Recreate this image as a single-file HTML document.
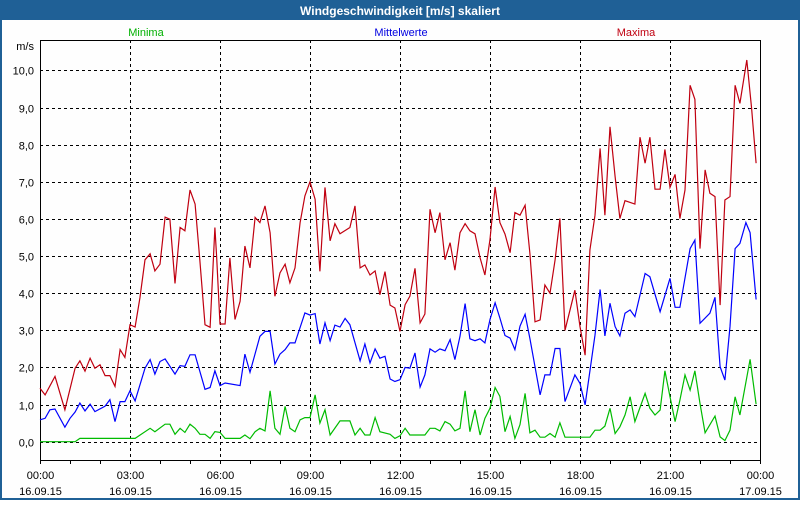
<!DOCTYPE html>
<html><head><meta charset="utf-8"><style>
body{margin:0;width:800px;height:500px;overflow:hidden;background:#fff;font-family:"Liberation Sans",sans-serif}
</style></head><body>
<svg id="c" width="800" height="500" xmlns="http://www.w3.org/2000/svg" font-family="Liberation Sans, sans-serif">
<rect x="0" y="0" width="800" height="500" fill="#1f6096"/>
<rect x="2" y="20" width="796" height="478" fill="#fefefe"/>
<text x="400" y="15" text-anchor="middle" fill="#fff" font-weight="bold" font-size="12">Windgeschwindigkeit [m/s] skaliert</text>
<text x="146" y="36" text-anchor="middle" fill="#00b000" font-size="11">Minima</text>
<text x="401" y="36" text-anchor="middle" fill="#0000e0" font-size="11">Mittelwerte</text>
<text x="636" y="36" text-anchor="middle" fill="#c00010" font-size="11">Maxima</text>
<text x="34" y="50" text-anchor="end" font-size="11">m/s</text>
<g id="grid"></g><g id="axes"></g><g id="series"></g>
</svg>
<script>
const yTicks=[0,1,2,3,4,5,6,7,8,9,10];
const yTickLabels=["0,0","1,0","2,0","3,0","4,0","5,0","6,0","7,0","8,0","9,0","10,0"];
const xTicks=[0,3,6,9,12,15,18,21,24];
const xTimeLabels=["00:00","03:00","06:00","09:00","12:00","15:00","18:00","21:00","00:00"];
const xDateLabels=["16.09.15","16.09.15","16.09.15","16.09.15","16.09.15","16.09.15","16.09.15","16.09.15","17.09.15"];
const maxHours=[0,0.17,0.5,0.83,1.17,1.33,1.5,1.67,1.83,2,2.17,2.33,2.5,2.67,2.83,3,3.17,3.33,3.5,3.67,3.83,4,4.17,4.33,4.5,4.67,4.83,5,5.17,5.33,5.5,5.67,5.83,5.89,6,6.17,6.33,6.5,6.67,6.83,7,7.17,7.33,7.5,7.67,7.83,8,8.17,8.33,8.5,8.67,8.83,9,9.17,9.33,9.5,9.67,9.83,10,10.33,10.5,10.67,10.83,11,11.17,11.33,11.5,11.67,11.83,12,12.17,12.33,12.5,12.67,12.83,13,13.17,13.33,13.5,13.67,13.83,14,14.17,14.33,14.5,14.67,14.83,15,15.17,15.33,15.5,15.67,15.83,16,16.17,16.33,16.5,16.67,16.83,17,17.17,17.33,17.5,17.83,18,18.17,18.33,18.5,18.67,18.83,19,19.17,19.33,19.5,19.83,20,20.17,20.33,20.5,20.67,20.83,21,21.17,21.33,21.5,21.67,21.83,22,22.17,22.33,22.5,22.67,22.83,23,23.17,23.33,23.56,23.72,23.87];
const maxValues=[1.44,1.26,1.76,0.86,1.98,2.18,1.9,2.25,1.98,2.07,1.78,1.78,1.49,2.48,2.27,3.15,3.09,3.87,4.9,5.06,4.6,4.78,6.05,5.99,4.26,5.77,5.68,6.78,6.4,4.87,3.15,3.08,5.77,4.95,3.17,3.17,4.95,3.29,3.78,5.27,4.68,6.04,5.9,6.35,5.63,3.92,4.55,4.78,4.28,4.68,5.9,6.62,7.0,6.53,4.59,6.85,5.41,5.87,5.6,5.77,6.35,4.68,4.76,4.49,4.6,3.96,4.58,3.68,3.6,2.97,3.69,3.92,4.67,3.2,3.44,6.26,5.63,6.17,4.9,5.36,4.62,5.63,5.87,5.68,5.6,4.95,4.49,5.45,6.86,5.9,5.59,5.09,6.17,6.1,6.37,5.07,3.23,3.28,4.22,4.0,4.9,6.01,3.0,4.08,3.1,2.33,5.16,6.1,7.9,6.1,8.48,7.14,6.01,6.49,6.4,8.2,7.5,8.2,6.8,6.8,7.87,6.85,7.2,6.01,6.78,9.6,9.22,5.2,7.32,6.69,6.6,3.68,6.51,6.6,9.6,9.11,10.28,8.98,7.5];
const meanHours=[0,0.17,0.33,0.5,0.83,1,1.17,1.33,1.5,1.67,1.83,2.17,2.33,2.5,2.67,2.83,3,3.17,3.5,3.67,3.83,4,4.17,4.5,4.67,4.83,5,5.17,5.5,5.67,5.83,6,6.17,6.67,6.83,7,7.33,7.5,7.67,7.83,8,8.17,8.33,8.5,8.83,9,9.17,9.33,9.5,9.67,9.83,10,10.17,10.33,10.67,10.83,11,11.17,11.33,11.5,11.67,11.83,12,12.17,12.33,12.5,12.67,12.83,13,13.17,13.33,13.5,13.67,13.83,14,14.17,14.33,14.5,14.67,14.83,15,15.17,15.33,15.5,15.67,15.83,16,16.17,16.33,16.67,16.83,17,17.17,17.33,17.5,17.83,18,18.17,18.5,18.67,18.83,19,19.17,19.33,19.5,19.67,19.83,20.17,20.33,20.67,21,21.17,21.33,21.67,21.83,22,22.33,22.5,22.67,22.83,23,23.17,23.33,23.53,23.67,23.87];
const meanValues=[0.59,0.63,0.86,0.88,0.39,0.63,0.8,1.04,0.83,1.01,0.81,0.96,1.13,0.54,1.08,1.08,1.37,1.1,1.98,2.21,1.82,2.16,2.23,1.82,2.05,2.03,2.34,2.34,1.41,1.46,1.91,1.51,1.58,1.51,2.36,1.87,2.84,2.97,2.97,2.09,2.36,2.48,2.66,2.66,3.47,3.41,3.45,2.63,3.2,2.72,3.14,3.09,3.32,3.15,2.18,2.63,2.12,2.5,2.25,2.3,1.69,1.62,1.67,2.0,1.98,2.39,1.47,1.8,2.5,2.41,2.5,2.45,2.75,2.21,2.84,3.72,2.77,2.72,2.77,2.66,3.29,3.74,3.33,2.86,2.79,2.48,3.11,3.43,2.78,1.26,1.8,1.8,2.51,2.51,1.08,1.8,1.57,0.99,2.87,4.1,2.85,3.73,3.1,2.85,3.46,3.55,3.37,4.53,4.44,3.5,4.4,3.62,3.62,5.2,5.43,3.19,3.46,3.89,2.02,1.66,3.1,5.2,5.34,5.9,5.63,3.83];
const minHours=[0,1.17,1.33,3.17,3.67,3.83,4.17,4.33,4.5,4.67,4.83,5,5.17,5.33,5.5,5.67,5.83,6,6.17,6.67,6.83,7,7.17,7.33,7.5,7.67,7.83,8,8.17,8.33,8.5,8.67,8.83,9,9.17,9.33,9.5,9.67,10,10.33,10.5,10.67,10.83,11,11.17,11.33,11.67,11.83,12,12.17,12.33,12.83,13,13.17,13.33,13.5,13.67,13.83,14,14.17,14.33,14.5,14.67,14.83,15,15.17,15.33,15.5,15.67,15.83,16,16.17,16.33,16.5,16.67,16.83,17,17.17,17.33,17.5,18.33,18.5,18.67,18.83,19,19.17,19.33,19.5,19.67,19.83,20.17,20.33,20.5,20.67,20.83,21,21.17,21.33,21.5,21.67,21.83,22,22.17,22.5,22.67,22.83,23,23.17,23.33,23.67,23.87];
const minValues=[0,0,0.09,0.09,0.36,0.27,0.47,0.47,0.2,0.36,0.25,0.47,0.36,0.2,0.2,0.09,0.27,0.25,0.09,0.09,0.18,0.08,0.27,0.36,0.29,1.37,0.36,0.2,0.95,0.36,0.27,0.59,0.65,0.65,1.26,0.5,0.86,0.18,0.56,0.56,0.18,0.36,0.18,0.18,0.65,0.27,0.2,0.09,0.16,0.36,0.18,0.18,0.36,0.36,0.29,0.54,0.47,0.29,0.36,1.37,0.27,0.86,0.18,0.63,0.9,1.46,1.22,0.27,0.68,0.09,0.46,1.3,0.24,0.31,0.12,0.12,0.22,0.12,0.51,0.12,0.12,0.31,0.31,0.42,0.9,0.22,0.4,0.72,1.21,0.54,1.3,0.9,0.72,0.85,1.91,1.21,0.54,1.12,1.8,1.39,1.91,1.03,0.24,0.69,0.13,0.03,0.31,1.21,0.72,2.22,1.01];

const NS="http://www.w3.org/2000/svg";
const L=40,R=760,T=40,B=460;
function xs(h){return L+(R-L)*h/24;}
function ys(v){return 441.7-37.13*v;}
const grid=document.getElementById('grid'),axes=document.getElementById('axes'),ser=document.getElementById('series');
function mk(tag,attrs,parent){const e=document.createElementNS(NS,tag);for(const k in attrs)e.setAttribute(k,attrs[k]);parent.appendChild(e);return e;}
yTicks.forEach((v,i)=>{
  const y=Math.round(ys(v))+0.5;
  const g=mk('line',{x1:L,x2:R,y1:y,y2:y,stroke:'#000','stroke-dasharray':'3,3','stroke-width':1},grid);
  
  
  const t=mk('text',{x:34,y:y+4,'text-anchor':'end','font-size':11},axes);
  t.textContent=yTickLabels[i];
  
  
});
xTicks.forEach((h,i)=>{
  const x=Math.round(xs(h))+0.5;
  if(h>0&&h<24){
    const g=mk('line',{x1:x,x2:x,y1:T,y2:B,stroke:'#000','stroke-dasharray':'3,3','stroke-width':1},grid);
    
    
  }
  const t1=mk('text',{x:x,y:479,'text-anchor':'middle','font-size':11},axes);
  t1.textContent=xTimeLabels[i];
  
  
  const t2=mk('text',{x:x,y:495,'text-anchor':'middle','font-size':11},axes);
  t2.textContent=xDateLabels[i];
  
  
});
for(let h=0;h<=24;h++){
  const x=Math.round(xs(h))+0.5;
  const tk=mk('line',{x1:x,x2:x,y1:B,y2:B+4,stroke:'#000'},axes);
  
  
}
const fr=mk('rect',{x:L+0.5,y:T+0.5,width:R-L,height:B-T,fill:'none',stroke:'#000'},axes);


function line(hs,vs,color,name){
  const p=mk('polyline',{points:hs.map((h,i)=>xs(h).toFixed(1)+','+ys(vs[i]).toFixed(1)).join(' '),fill:'none',stroke:color,'stroke-width':1.2},ser);
  
  
}
line(minHours,minValues,'#00bb00','minima-line');
line(meanHours,meanValues,'#0000ff','mittelwerte-line');
line(maxHours,maxValues,'#c00010','maxima-line');
</script>
</body></html>
